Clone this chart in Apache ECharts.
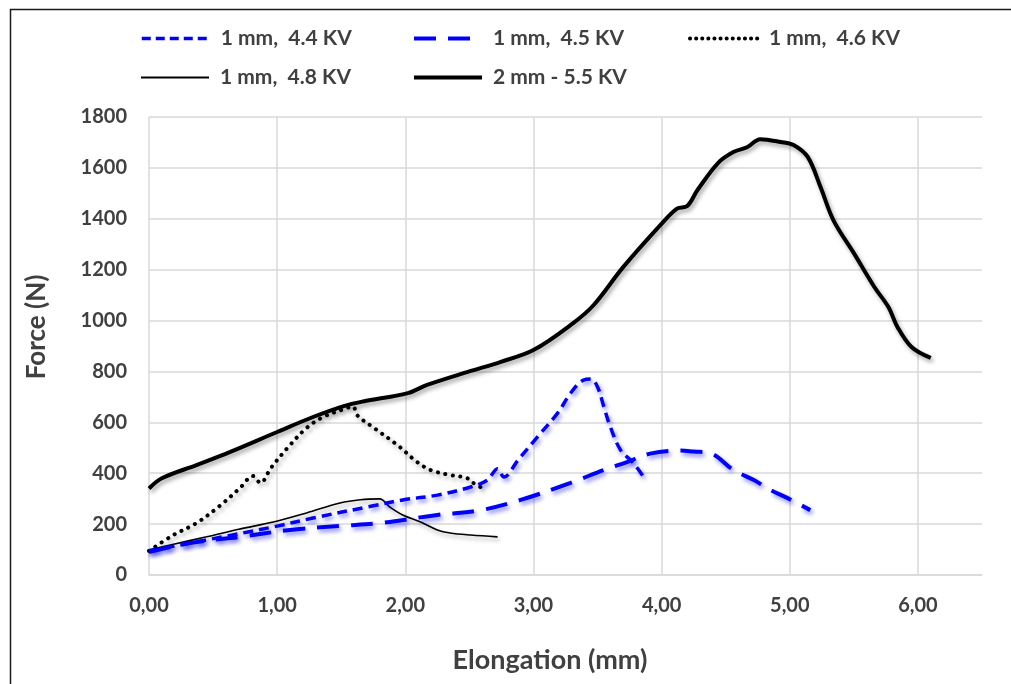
<!DOCTYPE html>
<html>
<head>
<meta charset="utf-8">
<script src="https://cdn.jsdelivr.net/npm/echarts@6/dist/echarts.min.js"></script>
<style>
html,body{margin:0;padding:0;background:#fff;}
#chart{width:1011px;height:684px;}
</style>
</head>
<body>
<div id="chart"></div>
<script>
// ---- data ----
const seriesNames = ['1 mm,  4.4 KV', '1 mm,  4.5 KV', '1 mm,  4.6 KV', '1 mm,  4.8 KV', '2 mm - 5.5 KV'];

const x44 = [0, 0.45, 0.97, 1.28, 1.73, 1.98, 2.25, 2.51, 2.64, 2.72, 2.77, 2.88, 3.03, 3.19, 3.29, 3.39, 3.45, 3.5, 3.55, 3.6, 3.68, 3.78, 3.86];
const y44 = [95, 138, 189, 224, 270, 295, 314, 346, 373, 418, 385, 452, 542, 637, 715, 766, 770, 739, 660, 582, 491, 440, 385];

const x45 = [0, 0.32, 0.71, 1.1, 1.49, 1.8, 2.25, 2.59, 2.9, 3.29, 3.55, 3.73, 3.91, 4.15, 4.25, 4.38, 4.56, 4.72, 4.85, 4.98, 5.16];
const y45 = [90, 126, 150, 177, 193, 204, 236, 255, 295, 362, 413, 444, 477, 489, 485, 479, 413, 373, 334, 303, 255];

const x46 = [0, 0.19, 0.37, 0.55, 0.71, 0.81, 0.87, 0.95, 1.08, 1.23, 1.36, 1.52, 1.59, 1.63, 1.75, 1.94, 2.09, 2.2, 2.35, 2.48, 2.53, 2.6];
const y46 = [95, 157, 204, 271, 342, 389, 362, 420, 499, 578, 621, 652, 662, 625, 580, 510, 445, 412, 393, 381, 362, 342];

const x48 = [0, 0.2, 0.45, 0.7, 0.97, 1.23, 1.49, 1.65, 1.8, 1.88, 1.98, 2.12, 2.25, 2.35, 2.51, 2.72];
const y48 = [98, 122, 150, 180, 208, 244, 283, 296, 299, 267, 236, 208, 177, 165, 157, 150];

const x55 = [0, 0.1, 0.37, 0.63, 1.0, 1.28, 1.52, 1.67, 2.02, 2.17, 2.5, 2.74, 3.0, 3.31, 3.47, 3.70, 3.99, 4.12, 4.2, 4.28, 4.44, 4.56, 4.67, 4.77, 4.93, 5.03, 5.14, 5.24, 5.34, 5.5, 5.66, 5.77, 5.84, 5.95, 6.1];
const y55 = [340, 380, 432, 483, 562, 621, 664, 682, 715, 747, 800, 837, 884, 990, 1061, 1210, 1375, 1440, 1450, 1513, 1619, 1662, 1682, 1713, 1702, 1690, 1643, 1525, 1395, 1265, 1132, 1053, 975, 896, 853];

const yTicks = [0, 200, 400, 600, 800, 1000, 1200, 1400, 1600, 1800];
const xTickLabels = ['0,00', '1,00', '2,00', '3,00', '4,00', '5,00', '6,00'];
const xTitle = 'Elongation (mm)';
const yTitle = 'Force (N)';

// ---- build ----
const zip = (xs, ys) => xs.map((x, i) => [x, ys[i]]);
const FONT = 'Lato';
const TXT = '#404040';

const styles = [
  {color: '#0000ff', width: 3.5, type: [10, 6], shadow: 'rgba(0,0,255,0.45)'},
  {color: '#0000ff', width: 4, type: [22, 12], shadow: 'rgba(0,0,255,0.45)'},
  {color: '#000000', width: 4, type: [0.1, 7.5], cap: 'round', shadow: 'rgba(0,0,0,0.35)'},
  {color: '#000000', width: 1.6, type: 'solid', shadow: 'rgba(0,0,0,0.35)'},
  {color: '#000000', width: 4, type: 'solid', shadow: 'rgba(0,0,0,0.35)'}
];
const legendDash = [[9, 5], [22, 12], [0.1, 6], 'solid', 'solid'];
const datasets = [zip(x44, y44), zip(x45, y45), zip(x46, y46), zip(x48, y48), zip(x55, y55)];

const series = seriesNames.map((name, i) => ({
  name: name,
  type: 'line',
  data: datasets[i],
  smooth: 0.35,
  showSymbol: false,
  symbol: 'none',
  z: 10 - i,
  itemStyle: {color: styles[i].color, opacity: 0},
  lineStyle: {
    color: styles[i].color,
    width: styles[i].width,
    type: styles[i].type,
    cap: styles[i].cap || 'butt',
    opacity: 1,
    shadowColor: styles[i].shadow,
    shadowBlur: 4,
    shadowOffsetX: 2,
    shadowOffsetY: 3
  }
}));

const legendPos = [[140, 28], [412, 28], [688, 28], [140, 67], [412, 67]];
const legends = seriesNames.map((name, i) => ({
  data: [name],
  left: legendPos[i][0],
  top: legendPos[i][1],
  padding: 0,
  itemWidth: 68,
  itemHeight: 24,
  itemStyle: {opacity: 0},
  lineStyle: {
    width: styles[i].width === 1.6 ? 2 : styles[i].width,
    type: legendDash[i],
    cap: styles[i].cap || 'butt',
    color: styles[i].color,
    opacity: 1
  },
  textStyle: {fontFamily: FONT, fontWeight: 'bold', fontSize: 21, color: TXT, padding: [0, 0, 0, 6]},
  selectedMode: false
}));

const chart = echarts.init(document.getElementById('chart'), null, {renderer: 'canvas'});
chart.setOption({
  backgroundColor: '#ffffff',
  animation: false,
  legend: legends,
  grid: {left: 149, right: 29, top: 117, bottom: 109, containLabel: false},
  xAxis: {
    type: 'value', min: 0, max: 6.5, interval: 1,
    axisLine: {show: true, lineStyle: {color: '#d9d9d9', width: 1.5}},
    axisTick: {show: false},
    axisLabel: {
      formatter: v => (Number.isInteger(v) && v <= 6) ? xTickLabels[v] : '',
      fontFamily: FONT, fontWeight: 'bold', fontSize: 20, color: TXT, margin: 21,
      showMaxLabel: false
    },
    splitLine: {show: true, showMaxLine: false, lineStyle: {color: '#d9d9d9', width: 1.5}}
  },
  yAxis: {
    type: 'value', min: 0, max: 1800, interval: 200,
    axisLine: {show: false},
    axisTick: {show: false},
    axisLabel: {
      formatter: v => yTicks.indexOf(v) >= 0 ? String(v) : '',
      fontFamily: FONT, fontWeight: 'bold', fontSize: 20, color: TXT, margin: 22
    },
    splitLine: {show: true, lineStyle: {color: '#d9d9d9', width: 1.5}}
  },
  graphic: [
    {type: 'rect', left: 8, top: 7, shape: {width: 1020, height: 700}, style: {fill: 'none', stroke: '#1a1a1a', lineWidth: 1.5}, silent: true, z: 100},
    {type: 'text', x: 550, y: 660, style: {text: xTitle, font: 'bold 27px ' + FONT, fill: TXT, align: 'center', verticalAlign: 'middle'}, z: 100},
    {type: 'text', x: 37, y: 327, rotation: Math.PI / 2, style: {text: yTitle, font: 'bold 26px ' + FONT, fill: TXT, align: 'center', verticalAlign: 'middle'}, z: 100}
  ],
  series: series
});
</script>
</body>
</html>
